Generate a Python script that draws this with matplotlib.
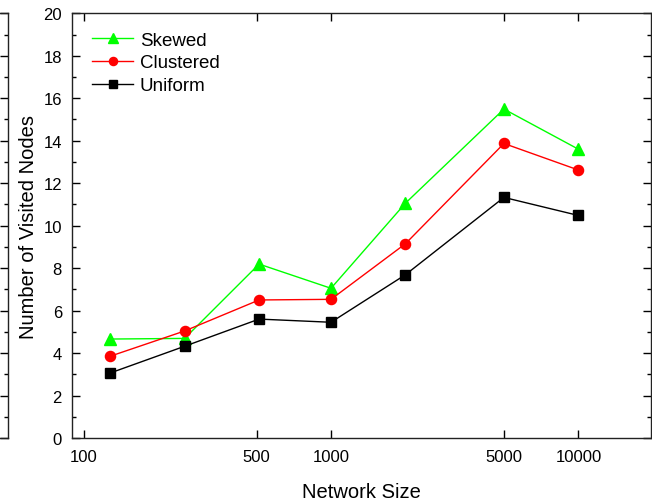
import matplotlib
matplotlib.use("Agg")
import matplotlib.pyplot as plt
from matplotlib.ticker import MultipleLocator, NullLocator

plt.rcParams['font.family'] = ['Liberation Sans', 'DejaVu Sans']

# data
sizes = [128, 256, 512, 1000, 2000, 5000, 10000]
skewed = [4.66, 4.69, 8.19, 7.05, 11.06, 15.49, 13.60]
clustered = [3.85, 5.04, 6.50, 6.53, 9.15, 13.87, 12.62]
uniform = [3.06, 4.32, 5.60, 5.45, 7.69, 11.33, 10.48]
xticks = [100, 500, 1000, 5000, 10000]
xtick_labels = ['100', '500', '1000', '5000', '10000']

W, H = 652, 502
fig = plt.figure(figsize=(W / 100, H / 100), dpi=100)

left, right, top, bottom = 71.7, 650.7, 14.3, 439.0
ax = fig.add_axes([left / W, 1 - bottom / H, (right - left) / W, (bottom - top) / H])

# right edge of a neighbouring panel, cut off at the left border
ghost = fig.add_axes([-0.4, 1 - bottom / H, 0.4 + 8 / W, (bottom - top) / H])
ghost.set_ylim(0, 20)
ghost.set_xticks([])
ghost.yaxis.set_major_locator(MultipleLocator(2))
ghost.yaxis.set_minor_locator(MultipleLocator(1))
ghost.tick_params(axis='y', which='both', direction='in', left=False, right=True,
                  labelleft=False, labelright=False, width=1.0)
ghost.tick_params(axis='y', which='major', length=6)
ghost.tick_params(axis='y', which='minor', length=3)
for s in ghost.spines.values():
    s.set_linewidth(1.0)
    s.set_color('#222222')

ax.plot(sizes, skewed, color='#00ff00', lw=1.0, marker='^', ms=8.5, mec='#00ff00', label='Skewed')
ax.plot(sizes, clustered, color='#ff0000', lw=1.0, marker='o', ms=7.3, mec='#ff0000', label='Clustered')
ax.plot(sizes, uniform, color='black', lw=1.0, marker='s', ms=6.5, mec='black', label='Uniform')

ax.set_xscale('log')
ax.set_xlim(89.5, 19600)
ax.set_ylim(0, 20)
ax.set_xticks(xticks)
ax.set_xticklabels(xtick_labels)
ax.xaxis.set_minor_locator(NullLocator())
ax.yaxis.set_major_locator(MultipleLocator(2))
ax.yaxis.set_minor_locator(MultipleLocator(1))

ax.tick_params(axis='both', which='both', direction='in', top=True, right=True, width=1.0,
               labelsize=12)
ax.tick_params(axis='both', which='major', length=6)
ax.tick_params(axis='both', which='minor', length=3)
ax.tick_params(axis='x', pad=8)
ax.tick_params(axis='y', pad=7)
for s in ax.spines.values():
    s.set_linewidth(1.0)
    s.set_color('#222222')

ax.set_xlabel('Network Size', fontsize=14.5, labelpad=13)
ax.set_ylabel('Number of Visited Nodes', fontsize=14.5, labelpad=4)

ax.legend(loc='upper left', bbox_to_anchor=(0.035, 0.957), frameon=False, fontsize=13.5,
          handlelength=2.2, handletextpad=0.35, labelspacing=0.3, borderpad=0,
          borderaxespad=0, markerscale=0.8)

fig.savefig('out.png', dpi=100)
